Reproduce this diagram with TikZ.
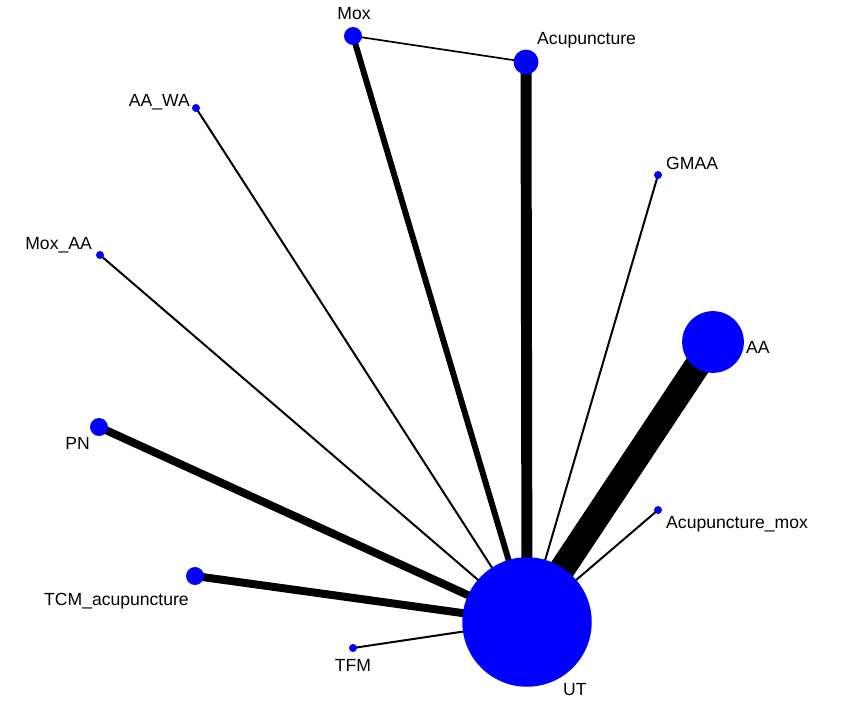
\documentclass[tikz,border=0pt]{standalone}
\usepackage{fontspec}
\setmainfont{Liberation Sans}
\begin{document}
\begin{tikzpicture}[x=0.03cm,y=-0.03cm,
  nd/.style={circle,fill=blue,inner sep=0pt,minimum size=#1*0.85pt},
  lb/.style={font=\fontsize{15pt}{17pt}\selectfont,inner sep=0pt},
  ed/.style={line width=#1*0.85pt}]
\useasboundingbox (0,0) rectangle (851,709);
\coordinate (UT) at (527,622);
\coordinate (AA) at (713,342);
\coordinate (Ac) at (526,62);
\coordinate (Mox) at (353,36);
\coordinate (AAWA) at (196,108);
\coordinate (GMAA) at (658,175);
\coordinate (MoxAA) at (100,255);
\coordinate (PN) at (99,427);
\coordinate (TCM) at (195,576);
\coordinate (TFM) at (353,648);
\coordinate (Acm) at (658,510);
\draw[ed=26] (UT) -- (AA);
\draw[ed=11] (UT) -- (Ac);
\draw[ed=6] (UT) -- (Mox);
\draw[ed=8] (UT) -- (PN);
\draw[ed=8] (UT) -- (TCM);
\draw[ed=2] (UT) -- (AAWA);
\draw[ed=2] (UT) -- (GMAA);
\draw[ed=2] (UT) -- (MoxAA);
\draw[ed=2] (UT) -- (TFM);
\draw[ed=2] (UT) -- (Acm);
\draw[ed=1.7] (Mox) -- (Ac);
\node[nd=130] (nUT) at (UT) {};
\node[nd=62] (nAA) at (AA) {};
\node[nd=25] (nAc) at (Ac) {};
\node[nd=18] (nMox) at (Mox) {};
\node[nd=8] (nAAWA) at (AAWA) {};
\node[nd=8] (nGMAA) at (GMAA) {};
\node[nd=8] (nMoxAA) at (MoxAA) {};
\node[nd=18] (nPN) at (PN) {};
\node[nd=18] (nTCM) at (TCM) {};
\node[nd=8] (nTFM) at (TFM) {};
\node[nd=8] (nAcm) at (Acm) {};
\node[lb] (lMox) at (354,14) {Mox};
\node[lb,anchor=west] (lAc) at (537,40) {Acupuncture};
\node[lb,anchor=east] (lAAWA) at (190,102) {AA\_WA};
\node[lb,anchor=west] (lGMAA) at (666,163) {GMAA};
\node[lb,anchor=east] (lMoxAA) at (92,245) {Mox\_AA};
\node[lb,anchor=west] (lAA) at (746,347) {AA};
\node[lb,anchor=east] (lPN) at (90,443) {PN};
\node[lb,anchor=east] (lTCM) at (189,601) {TCM\_acupuncture};
\node[lb] (lTFM) at (353,665) {TFM};
\node[lb,anchor=west] (lAcm) at (666,524) {Acupuncture\_mox};
\node[lb,anchor=west] (lUT) at (563,690) {UT};
\end{tikzpicture}
\end{document}
